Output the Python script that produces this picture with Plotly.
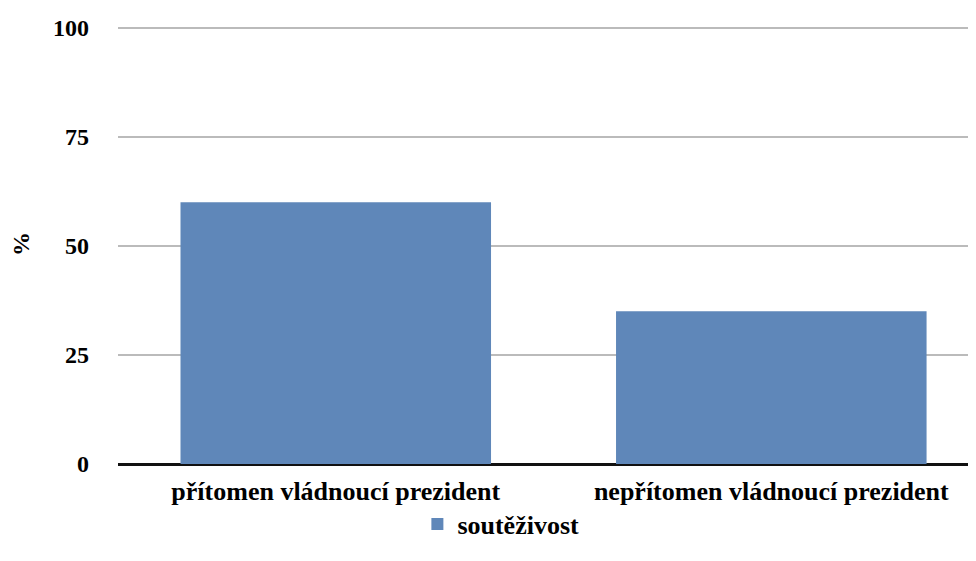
import plotly.graph_objects as go

categories = ["přítomen vládnoucí prezident", "nepřítomen vládnoucí prezident"]
values = [60, 35]
series_name = "soutěživost"
y_ticks = [0, 25, 50, 75, 100]

font_family = "Liberation Serif, Times New Roman, serif"

fig = go.Figure()
fig.add_trace(go.Bar(
    x=categories, y=values, name=series_name,
    marker=dict(color="#5F87B9", line=dict(width=0)),
    showlegend=True,
))

fig.update_layout(
    width=976, height=561,
    margin=dict(l=110, r=8, t=16, b=105, autoexpand=False),
    paper_bgcolor="white", plot_bgcolor="white",
    font=dict(family=font_family, size=24, color="black"),
    bargap=0.287,
    showlegend=True,
    legend=dict(
        orientation="h", xref="container", yref="container",
        x=0.505, xanchor="center", y=0.08, yanchor="middle",
        bgcolor="rgba(0,0,0,0)",
        font=dict(family=font_family, size=26, color="black", weight="bold"),
    ),
    xaxis=dict(
        type="category", range=[-0.5, 1.47], automargin=False,
        showgrid=False, showline=False, zeroline=False,
        ticks="", ticklabelstandoff=9,
        tickfont=dict(family=font_family, size=26, color="black", weight="bold"),
    ),
    yaxis=dict(
        range=[0, 100.9], tickvals=y_ticks, automargin=False,
        showgrid=True, gridcolor="#BBBBBB", gridwidth=2,
        zeroline=True, zerolinecolor="#111111", zerolinewidth=3,
        showline=False, ticks="", ticklabelstandoff=28,
        tickfont=dict(family=font_family, size=24, color="black", weight="bold"),
        title=dict(text="%", standoff=34,
                   font=dict(family=font_family, size=24, color="black", weight="bold")),
    ),
)

fig.write_html("out.html")
